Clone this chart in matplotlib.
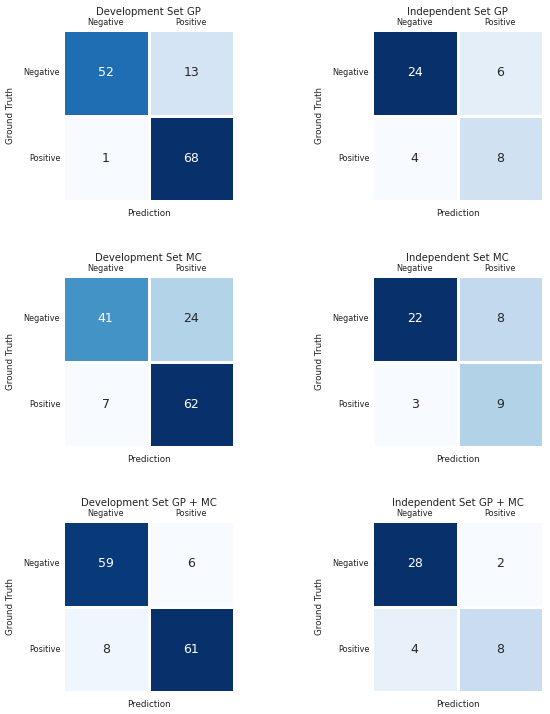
import matplotlib
matplotlib.use("Agg")
import matplotlib.pyplot as plt
import seaborn as sns
import numpy as np

labels = ["Negative", "Positive"]
titles = ["Development Set GP", "Independent Set GP",
          "Development Set MC", "Independent Set MC",
          "Development Set GP + MC", "Independent Set GP + MC"]
dev_gp = [[52, 13], [1, 68]]
ind_gp = [[24, 6], [4, 8]]
dev_mc = [[41, 24], [7, 62]]
ind_mc = [[22, 8], [3, 9]]
dev_gpmc = [[59, 6], [8, 61]]
ind_gpmc = [[28, 2], [4, 8]]
matrices = [dev_gp, ind_gp, dev_mc, ind_mc, dev_gpmc, ind_gpmc]

W, H = 550, 714
fig = plt.figure(figsize=(W / 100, H / 100), dpi=100)
tops = [30, 276, 521]
lefts = [63, 372]
size_w, size_h = 171, 171

for i, (m, t) in enumerate(zip(matrices, titles)):
    r, c = divmod(i, 2)
    l = lefts[c]
    top = tops[r]
    ax = fig.add_axes([l / W, (H - top - size_h) / H, size_w / W, size_h / H])
    sns.heatmap(np.array(m), annot=True, fmt="d", cmap="Blues", cbar=False,
                linewidths=1.0, linecolor="white", square=False, ax=ax,
                xticklabels=labels, yticklabels=labels,
                annot_kws={"fontsize": 9})
    ax.xaxis.tick_top()
    ax.tick_params(length=0, labelsize=5.9, pad=2, labelcolor="#222222")
    ax.set_yticklabels(labels, rotation=0)
    ax.set_xticklabels(labels, rotation=0)
    ax.set_title(t, fontsize=7.3, pad=11, color="#222222")
    ax.set_xlabel("Prediction", fontsize=6.3, labelpad=6, color="#222222")
    ax.set_ylabel("Ground Truth", fontsize=6.3, labelpad=6, color="#222222")

fig.savefig("out.png", dpi=100)
